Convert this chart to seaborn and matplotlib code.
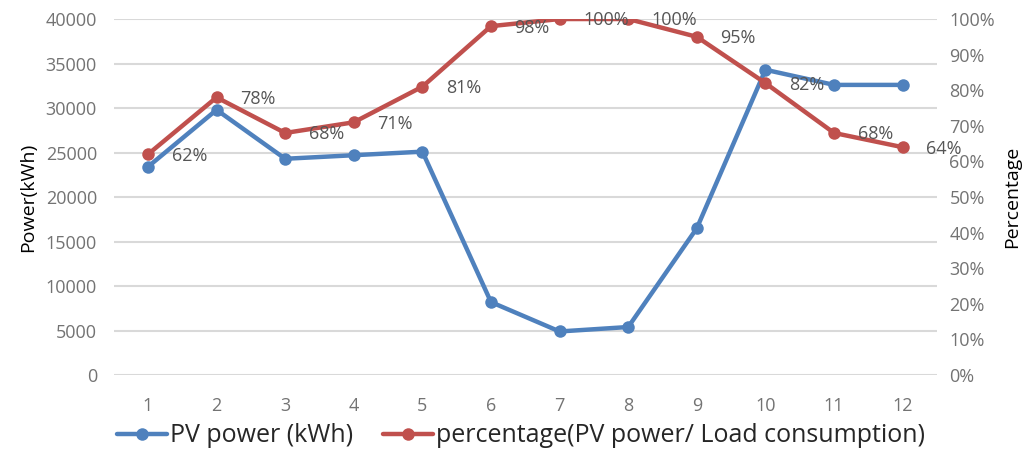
import matplotlib
matplotlib.use("Agg")
import matplotlib.pyplot as plt
import seaborn as sns
import pandas as pd
from matplotlib.ticker import FuncFormatter, MultipleLocator

# Monthly PV output and share of load covered
months = list(range(1, 13))
pv_power = [23400, 29800, 24300, 24700, 25100, 8200, 4900, 5400, 16500, 34300, 32600, 32600]
percentage = [62, 78, 68, 71, 81, 98, 100, 100, 95, 82, 68, 64]
pct_labels = [f"{p}%" for p in percentage]

pv_label = "PV power (kWh)"
pct_label = "percentage(PV power/ Load consumption)"

BLUE = "#4F81BD"
RED = "#C0504D"
TICK_GREY = "#737373"
GRID_GREY = "#d9d9d9"

sns.set_style("white")
plt.rcParams["font.family"] = ["Open Sans", "DejaVu Sans"]

df = pd.DataFrame({"month": months, "pv": pv_power, "pct": percentage})

fig = plt.figure(figsize=(10.24, 4.53), dpi=100)
ax = fig.add_axes([0.111, 0.172, 0.804, 0.786])
ax2 = ax.twinx()

sns.lineplot(data=df, x="month", y="pv", ax=ax, color=BLUE, linewidth=3.2,
             marker="o", markersize=9, markeredgewidth=0, label=pv_label, legend=False)
sns.lineplot(data=df, x="month", y="pct", ax=ax2, color=RED, linewidth=3.2,
             marker="o", markersize=9, markeredgewidth=0, label=pct_label, legend=False)

# Left axis: power
ax.set_xlim(0.5, 12.5)
ax.set_ylim(0, 40000)
ax.yaxis.set_major_locator(MultipleLocator(5000))
ax.set_xticks(months)
ax.grid(axis="y", color=GRID_GREY, linewidth=1.5)
ax.set_axisbelow(True)
ax.tick_params(axis="both", length=0, labelsize=13, labelcolor=TICK_GREY)
ax.tick_params(axis="y", pad=12)
ax.tick_params(axis="x", pad=16)
ax.set_xlabel("")
ax.set_ylabel("Power(kWh)", fontsize=14, color="black", labelpad=6)

# Right axis: percentage
ax2.set_ylim(0, 100)
ax2.yaxis.set_major_locator(MultipleLocator(10))
ax2.yaxis.set_major_formatter(FuncFormatter(lambda v, _: f"{v:.0f}%"))
ax2.tick_params(axis="y", length=0, labelsize=13, labelcolor=TICK_GREY, pad=9)
ax2.set_ylabel("Percentage", fontsize=14, color="black", labelpad=6)
ax2.grid(False)

for a in (ax, ax2):
    for s in a.spines.values():
        s.set_visible(False)

# Value labels to the right of each percentage point
for m, p, txt in zip(months, percentage, pct_labels):
    ax2.annotate(txt, xy=(m, p), xytext=(17, -1), textcoords="offset points",
                 ha="left", va="center", fontsize=13, color="#555555")

handles = ax.get_lines()[:1] + ax2.get_lines()[:1]
fig.legend(handles, [pv_label, pct_label], loc="center", bbox_to_anchor=(0.509, 0.038),
           ncol=2, frameon=False, fontsize=18, handlelength=2.0, handletextpad=0.12,
           columnspacing=1.2)

fig.savefig("out.png", dpi=100, facecolor="white")
